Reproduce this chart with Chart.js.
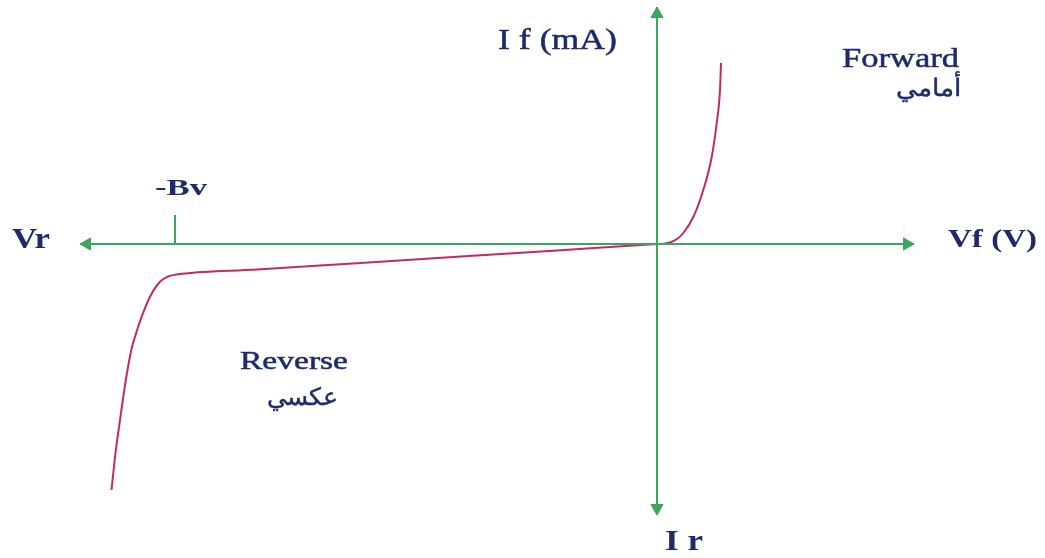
<!DOCTYPE html>
<html>
<head>
<meta charset="utf-8">
<script src="https://cdn.jsdelivr.net/npm/chart.js@4"></script>
<style>
  html, body { margin: 0; padding: 0; background: #fff; }
  #wrap { width: 1045px; height: 558px; position: relative; }
</style>
</head>
<body>
<div id="wrap"><canvas id="c"></canvas></div>
<script>
// diode curve, left (breakdown) to right (forward), units ~ arbitrary
const curveV = [-54.55, -54.15, -53.7, -53.1, -52.53, -52.2, -51.53, -50.7, -49.7, -48.9, -48.2,
                -40, -30, -20, -10, 0, 0.65, 1.3, 2.0, 2.63, 3.63, 4.63, 5.47, 5.97, 6.3, 6.4];
const curveI = [-24.6, -20.9, -17.6, -13.5, -10.43, -9.27, -7.27, -5.27, -3.77, -3.25, -3.08,
                -2.56, -1.92, -1.28, -0.64, 0, 0.03, 0.15, 0.5, 1.1, 2.7, 5.4, 8.7, 12.1, 15.4, 18.1];

// axis extents and breakdown voltage
const vMin = -57.7, vMax = 25.7;
const iMin = -27.1, iMax = 23.7;
const bv = -48.2, bvTick = 2.9;

const green = '#3fa45e';
const curveColor = '#c22a63';
const navy = '#1d2b6c';

const pts = (xs, ys) => xs.map((x, i) => ({x: x, y: ys[i]}));

const labelPlugin = {
  id: 'labels',
  afterDatasetsDraw(chart){
    const ctx = chart.ctx;
    const serif = '"Liberation Serif", "Times New Roman", serif';
    const arab = '"DejaVu Serif", serif';
    // x = centre, y = baseline, w = width on the page
    const items = [
      {t: 'I f (mA)', x: 557.5, y: 49, f: '30px ' + serif, w: 119, s: 0.5},
      {t: 'Forward', x: 900.5, y: 67, f: '28px ' + serif, w: 117, s: 0.5},
      {t: 'أمامي', x: 929, y: 96, f: '24px ' + arab, w: 66, s: 0.4},
      {t: 'Reverse', x: 294, y: 368.5, f: '25px ' + serif, w: 108, s: 0.5},
      {t: 'عكسي', x: 302, y: 405, f: '24px ' + arab, w: 71, s: 0.4},
      {t: '-Bv', x: 181, y: 195, f: 'bold 23px ' + serif, w: 52, s: 0},
      {t: 'Vr', x: 31, y: 247.5, f: 'bold 29px ' + serif, w: 38, s: 0},
      {t: 'Vf (V)', x: 992.5, y: 247, f: 'bold 26px ' + serif, w: 89, s: 0},
      {t: 'I r', x: 684, y: 550, f: 'bold 30px ' + serif, w: 38, s: 0}
    ];
    ctx.save();
    ctx.fillStyle = navy;
    ctx.strokeStyle = navy;
    ctx.textBaseline = 'alphabetic';
    ctx.textAlign = 'center';
    items.forEach(it => {
      ctx.font = it.f;
      const m = ctx.measureText(it.t).width;
      const sx = it.w / m;
      ctx.save();
      ctx.translate(it.x, it.y);
      ctx.scale(sx, 1);
      ctx.fillText(it.t, 0, 0);
      if (it.s) {
        ctx.lineWidth = it.s;
        ctx.strokeText(it.t, 0, 0);
      }
      ctx.restore();
    });
    ctx.restore();
  }
};

new Chart(document.getElementById('c').getContext('2d'), {
  type: 'scatter',
  data: {
    datasets: [
      {
        data: pts([vMin, vMax], [0, 0]),
        showLine: true, borderColor: green, borderWidth: 2, pointRadius: 0
      },
      {
        data: pts([0, 0], [iMin, iMax]),
        showLine: true, borderColor: green, borderWidth: 2, pointRadius: 0
      },
      {
        data: pts([bv, bv], [0, bvTick]),
        showLine: true, borderColor: green, borderWidth: 2, pointRadius: 0
      },
      {
        data: pts([vMin + 0.7, vMax - 0.7, 0, 0], [0, 0, iMax - 0.7, iMin + 0.7]),
        showLine: false,
        pointStyle: 'triangle',
        pointRotation: [-90, 90, 0, 180],
        pointRadius: 7,
        backgroundColor: green,
        borderColor: green,
        borderWidth: 1
      },
      {
        data: pts(curveV, curveI),
        showLine: true,
        borderColor: curveColor,
        borderWidth: 2,
        pointRadius: 0,
        cubicInterpolationMode: 'monotone'
      }
    ]
  },
  options: {
    responsive: true,
    maintainAspectRatio: false,
    animation: false,
    layout: {padding: 0, autoPadding: false},
    plugins: {legend: {display: false}, tooltip: {enabled: false}},
    scales: {
      x: {type: 'linear', min: -65.7, max: 38.8, display: false},
      y: {type: 'linear', min: -31.4, max: 24.4, display: false}
    }
  },
  plugins: [labelPlugin]
});
</script>
</body>
</html>
